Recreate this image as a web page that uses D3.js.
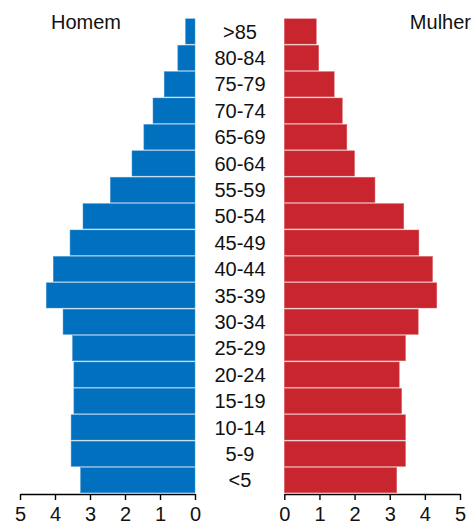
<!DOCTYPE html>
<html>
<head>
<meta charset="utf-8">
<script src="https://cdn.jsdelivr.net/npm/d3@7"></script>
<style>
  body { margin: 0; background: #fff; }
  svg { display: block; font-family: "Liberation Sans", Arial, sans-serif; }
</style>
</head>
<body>
<div id="chart"></div>
<script>
const ageGroups = ['>85', '80-84', '75-79', '70-74', '65-69', '60-64', '55-59', '50-54', '45-49',
  '40-44', '35-39', '30-34', '25-29', '20-24', '15-19', '10-14', '5-9', '<5'];
const homem = [0.27, 0.49, 0.88, 1.2, 1.46, 1.8, 2.42, 3.2, 3.57,
  4.05, 4.25, 3.77, 3.5, 3.46, 3.46, 3.54, 3.54, 3.27];
const mulher = [0.91, 0.98, 1.42, 1.65, 1.78, 2.0, 2.58, 3.4, 3.83,
  4.22, 4.34, 3.81, 3.45, 3.27, 3.34, 3.45, 3.45, 3.2];
const tickValues = [0, 1, 2, 3, 4, 5];

const width = 472;
const height = 525;

const svg = d3.select('#chart').append('svg')
  .attr('width', width)
  .attr('height', height);

const yScale = d3.scaleBand().domain(ageGroups).range([18.3, 493.3]).paddingInner(0.045).paddingOuter(0.02);
const xLeft = d3.scaleLinear().domain([0, 5]).range([195, 20]);
const xRight = d3.scaleLinear().domain([0, 5]).range([284.3, 460]);

const rows = ageGroups.map((g, i) => ({ group: g, h: homem[i], m: mulher[i] }));

// men, to the left
svg.append('g').selectAll('rect')
  .data(rows)
  .enter()
  .append('rect')
  .attr('x', (d) => xLeft(d.h))
  .attr('y', (d) => yScale(d.group))
  .attr('width', (d) => xLeft(0) - xLeft(d.h))
  .attr('height', yScale.bandwidth())
  .attr('fill', '#0070bf')
  .attr('stroke', '#4a95d0')
  .attr('stroke-width', 0.5);

// women, to the right
svg.append('g').selectAll('rect')
  .data(rows)
  .enter()
  .append('rect')
  .attr('x', xRight(0))
  .attr('y', (d) => yScale(d.group))
  .attr('width', (d) => xRight(d.m) - xRight(0))
  .attr('height', yScale.bandwidth())
  .attr('fill', '#c8252e')
  .attr('stroke', '#d9646a')
  .attr('stroke-width', 0.5);

// age labels in the middle
svg.append('g').selectAll('text')
  .data(rows)
  .enter()
  .append('text')
  .attr('x', 240)
  .attr('y', (d) => yScale(d.group) + yScale.bandwidth() / 2)
  .attr('dy', '0.36em')
  .attr('text-anchor', 'middle')
  .attr('font-size', 20)
  .attr('fill', '#111')
  .text((d) => d.group);

function styleAxis(g) {
  g.select('.domain').attr('stroke', '#000').attr('stroke-width', 1.4);
  g.selectAll('.tick line').attr('stroke', '#000').attr('stroke-width', 1.4);
  g.selectAll('.tick text').attr('font-size', 20).attr('fill', '#111')
    .attr('font-family', '"Liberation Sans", Arial, sans-serif');
}

svg.append('g')
  .attr('transform', 'translate(0,494)')
  .call(d3.axisBottom(xLeft).tickValues(tickValues).tickFormat(d3.format('d')).tickSize(6).tickSizeOuter(0).tickPadding(7))
  .call(styleAxis);

svg.append('g')
  .attr('transform', 'translate(0,494)')
  .call(d3.axisBottom(xRight).tickValues(tickValues).tickFormat(d3.format('d')).tickSize(6).tickSizeOuter(0).tickPadding(7))
  .call(styleAxis);

svg.append('text')
  .attr('x', 51)
  .attr('y', 29)
  .attr('font-size', 20)
  .attr('fill', '#111')
  .text('Homem');

svg.append('text')
  .attr('x', 471)
  .attr('y', 29)
  .attr('text-anchor', 'end')
  .attr('font-size', 20)
  .attr('fill', '#111')
  .text('Mulher');
</script>
</body>
</html>
